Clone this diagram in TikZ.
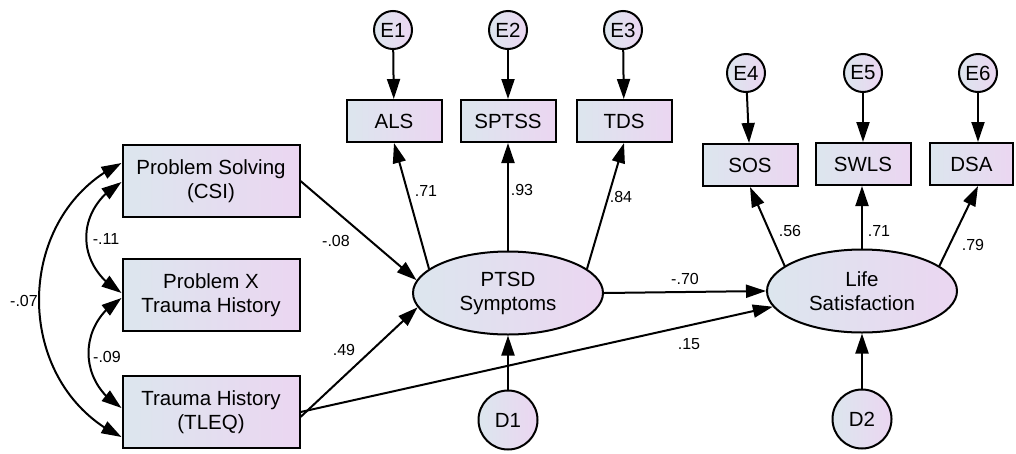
\documentclass[tikz,border=0pt]{standalone}
\usepackage{fontspec}
\setmainfont{Liberation Sans}
\usetikzlibrary{arrows.meta,bending,shapes.geometric}
\definecolor{shadeL}{RGB}{220,230,238}
\definecolor{shadeR}{RGB}{235,214,241}

\begin{document}
\begin{tikzpicture}[x=1pt,y=-1pt,
  obs/.style={draw,line width=2pt,left color=shadeL,right color=shadeR,minimum width=177pt,minimum height=72pt,inner sep=0pt,align=center,font=\fontsize{20.5}{23.5}\selectfont},
  ind/.style={obs,minimum width=95pt,minimum height=42pt},
  lat/.style={ellipse,draw,line width=2pt,left color=shadeL,right color=shadeR,minimum width=190pt,minimum height=83pt,inner sep=0pt,align=center,font=\fontsize{20.5}{24}\selectfont},
  err/.style={circle,draw,line width=2pt,left color=shadeL,right color=shadeR,minimum size=38pt,inner sep=0pt,font=\fontsize{20.5}{23}\selectfont},
  dist/.style={err,minimum size=59pt},
  reg/.style={line width=2pt,-{Triangle[length=20pt,width=13pt]}},
  cov/.style={line width=2pt,{Triangle[length=20pt,width=13pt]}-{Triangle[length=20pt,width=13pt]}},
  coef/.style={inner sep=0pt,font=\fontsize{16}{18}\selectfont}]
  \useasboundingbox (0,0) rectangle (1016,453);

  % exogenous measures
  \node[obs] (ps) at (211,181) {Problem Solving\\(CSI)};
  \node[obs] (px) at (211,295) {Problem X\\Trauma History};
  \node[obs] (th) at (211,412) {Trauma History\\(TLEQ)};

  % latent factors
  \node[lat] (ptsd) at (508,293) {PTSD\\Symptoms};
  \node[lat] (life) at (862,291) {Life\\Satisfaction};

  % indicators
  \node[ind] (als) at (394,121) {ALS};
  \node[ind] (sptss) at (508,121) {SPTSS};
  \node[ind] (tds) at (624,121) {TDS};
  \node[ind] (sos) at (750,165) {SOS};
  \node[ind] (swls) at (863,164) {SWLS};
  \node[ind,minimum width=83pt] (dsa) at (971.5,164) {DSA};

  % errors and disturbances
  \node[err] (e1) at (393,30) {E1};
  \node[err] (e2) at (508,30) {E2};
  \node[err] (e3) at (623,30) {E3};
  \node[err] (e4) at (746,73) {E4};
  \node[err] (e5) at (863,73) {E5};
  \node[err] (e6) at (978,73) {E6};
  \node[dist] (d1) at (508,420) {D1};
  \node[dist] (d2) at (862,419) {D2};

  % covariances
  \draw[cov] ([yshift=18pt]ps.west) .. controls +(-110,52) and +(-110,-52) .. ([yshift=-25pt]th.west);
  \draw[cov] ([yshift=-1pt]ps.west) .. controls +(-47,27) and +(-47,-27) .. ([yshift=2pt]px.west);
  \draw[cov] ([yshift=-3pt]px.west) .. controls +(-44,26) and +(-44,-26) .. ([yshift=4pt]th.west);

  % structural paths
  \draw[reg] (ps.east) -- (ptsd.172);
  \draw[reg] ([yshift=-5pt]th.east) -- (ptsd.189);
  \draw[reg] (th.east) -- (life.190);
  \draw[reg] (ptsd.east) -- (life.west);
  \draw[reg] (d1) -- (ptsd);
  \draw[reg] (d2) -- (life);

  % loadings
  \draw[reg] (ptsd.163) -- (als.south);
  \draw[reg] (ptsd.north) -- (sptss.south);
  \draw[reg] (ptsd.17) -- (tds.south);
  \draw[reg] (life.162) -- (sos.south);
  \draw[reg] (life.north) -- (life.north |- swls.south);
  \draw[reg] (life.18) -- (e6 |- dsa.south);

  \draw[reg] (e1) -- (als);
  \draw[reg] (e2) -- (sptss);
  \draw[reg] (e3) -- (tds);
  \draw[reg] (e4) -- (sos);
  \draw[reg] (e5) -- (swls);
  \draw[reg] (e6) -- (e6 |- dsa.north);

  % estimates
  \node[coef] (c07) at (24,301) {-.07};
  \node[coef] (c11) at (106,239) {-.11};
  \node[coef] (c09) at (107,357) {-.09};
  \node[coef] (c08) at (336,241) {-.08};
  \node[coef] (c49) at (344,350) {.49};
  \node[coef] (cals) at (426,191) {.71};
  \node[coef] (csptss) at (522,190) {.93};
  \node[coef] (ctds) at (621,197) {.84};
  \node[coef] (c70) at (685,279) {-.70};
  \node[coef] (c15) at (689,344) {.15};
  \node[coef] (csos) at (790,231) {.56};
  \node[coef] (cswls) at (879,231) {.71};
  \node[coef] (cdsa) at (973,245) {.79};
\end{tikzpicture}
\end{document}
